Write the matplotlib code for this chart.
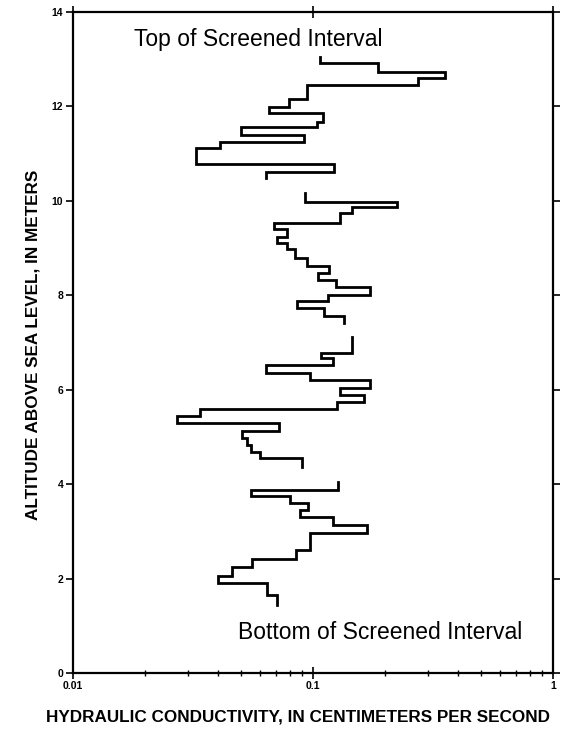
"""
Hydraulic conductivity profile across the screened interval
"""
import numpy as np
import matplotlib.pyplot as plt

# altitude breakpoints (m) and conductivity (cm/s) of each interval, top down.
# the trace is broken in four pieces
alt_1 = [13.05, 12.92, 12.73, 12.61, 12.46, 12.16, 11.99, 11.86, 11.67, 11.57,
         11.40, 11.25, 11.12, 10.78, 10.61, 10.49]
k_1 = [0.107, 0.187, 0.355, 0.274, 0.0944, 0.0794, 0.0656, 0.110, 0.104, 0.0501,
       0.0917, 0.041, 0.0326, 0.122, 0.0637]

alt_2 = [10.17, 9.98, 9.87, 9.75, 9.53, 9.41, 9.24, 9.11, 8.98, 8.79, 8.62,
         8.47, 8.33, 8.18, 8.01, 7.88, 7.73, 7.56, 7.42]
k_2 = [0.0926, 0.224, 0.145, 0.130, 0.0688, 0.0779, 0.0708, 0.0779, 0.0841,
       0.0944, 0.117, 0.105, 0.125, 0.173, 0.115, 0.0858, 0.111, 0.135]

alt_3 = [7.12, 6.78, 6.67, 6.53, 6.36, 6.21, 6.04, 5.89, 5.74, 5.59, 5.44,
         5.30, 5.13, 4.98, 4.83, 4.68, 4.56, 4.36]
k_3 = [0.145, 0.108, 0.121, 0.0637, 0.0972, 0.173, 0.130, 0.163, 0.126,
       0.0338, 0.0271, 0.0722, 0.0506, 0.0531, 0.0552, 0.0601, 0.0900]

alt_4 = [4.05, 3.88, 3.75, 3.60, 3.45, 3.31, 3.14, 2.97, 2.61, 2.42, 2.25,
         2.06, 1.91, 1.65, 1.44]
k_4 = [0.127, 0.0552, 0.0802, 0.0953, 0.0882, 0.121, 0.168, 0.0972, 0.0849,
       0.0557, 0.046, 0.0402, 0.0643, 0.0708]

pieces = [(alt_1, k_1), (alt_2, k_2), (alt_3, k_3), (alt_4, k_4)]

y_ticks = [0, 2, 4, 6, 8, 10, 12, 14]
x_ticks = [0.01, 0.1, 1]
x_tick_labels = ["0.01", "0.1", "1"]

plt.rcParams['font.family'] = ['Liberation Sans', 'DejaVu Sans']

fig = plt.figure(figsize=(5.63, 7.29), dpi=100)
ax = fig.add_axes([0.1297, 0.0768, 0.8526, 0.9067])

for alts, ks in pieces:
    # vertical at each K, horizontal jumps at each breakpoint
    xs, ys = [], []
    for i, k in enumerate(ks):
        xs += [k, k]
        ys += [alts[i], alts[i + 1]]
    ax.plot(xs, ys, color='black', linewidth=2.0, solid_joinstyle='miter')

ax.set_xscale('log')
ax.set_xlim(0.01, 1)
ax.set_ylim(0, 14)

ax.set_yticks(y_ticks)
ax.set_yticklabels([str(v) for v in y_ticks], fontsize=7.5, fontweight='bold')
ax.set_xticks(x_ticks)
ax.set_xticklabels(x_tick_labels, fontsize=7.5, fontweight='bold')
ax.tick_params(axis='y', direction='out', length=5, width=1.2, pad=2,
               right=True)
ax.tick_params(axis='x', which='major', direction='inout', length=8, width=1.2,
               pad=2, top=True)
ax.tick_params(axis='x', which='minor', direction='inout', length=5, width=1.0,
               top=False)
ax.tick_params(axis='y', which='minor', left=False, right=False)

for sp in ax.spines.values():
    sp.set_linewidth(1.6)

ax.text(0.385, 0.958, "Top of Screened Interval", transform=ax.transAxes,
        ha='center', va='center', fontsize=16.5)
ax.text(0.64, 0.062, "Bottom of Screened Interval", transform=ax.transAxes,
        ha='center', va='center', fontsize=16.5)

fig.text(33 / 563, 1 - 345 / 729, "ALTITUDE ABOVE SEA LEVEL, IN METERS",
         rotation=90, ha='center', va='center', fontsize=12.3,
         fontweight='bold')
fig.text(46 / 563, 1 - 717 / 729,
         "HYDRAULIC CONDUCTIVITY, IN CENTIMETERS PER SECOND",
         ha='left', va='center', fontsize=12.3, fontweight='bold')

fig.savefig("out.png", dpi=100)
plt.close(fig)
